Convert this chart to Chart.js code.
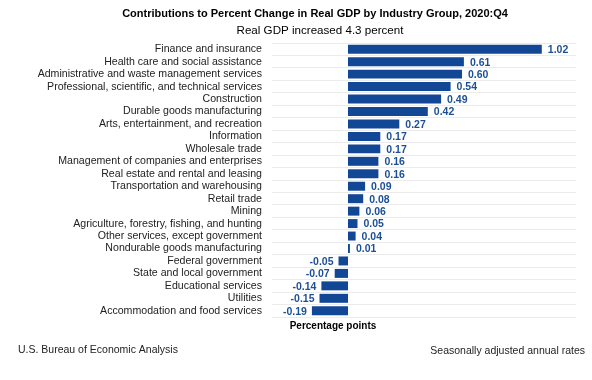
<!DOCTYPE html>
<html>
<head>
<meta charset="utf-8">
<script src="https://cdn.jsdelivr.net/npm/chart.js@4.4.1/dist/chart.umd.min.js"></script>
<style>
  html, body { margin: 0; padding: 0; background: #fff; }
  #wrap { width: 592px; height: 380px; position: relative; }
</style>
</head>
<body>
<div id="wrap"><canvas id="gdpChart"></canvas></div>
<script>
  const industries = [
    "Finance and insurance",
    "Health care and social assistance",
    "Administrative and waste management services",
    "Professional, scientific, and technical services",
    "Construction",
    "Durable goods manufacturing",
    "Arts, entertainment, and recreation",
    "Information",
    "Wholesale trade",
    "Management of companies and enterprises",
    "Real estate and rental and leasing",
    "Transportation and warehousing",
    "Retail trade",
    "Mining",
    "Agriculture, forestry, fishing, and hunting",
    "Other services, except government",
    "Nondurable goods manufacturing",
    "Federal government",
    "State and local government",
    "Educational services",
    "Utilities",
    "Accommodation and food services"
  ];
  const contributions = [1.02, 0.61, 0.60, 0.54, 0.49, 0.42, 0.27, 0.17, 0.17, 0.16, 0.16,
    0.09, 0.08, 0.06, 0.05, 0.04, 0.01, -0.05, -0.07, -0.14, -0.15, -0.19];

  const titleText = "Contributions to Percent Change in Real GDP by Industry Group, 2020:Q4";
  const subtitleText = "Real GDP increased 4.3 percent";
  const axisTitle = "Percentage points";
  const sourceText = "U.S. Bureau of Economic Analysis";
  const noteText = "Seasonally adjusted annual rates";

  const barBlue = "#124796";
  const labelBlue = "#1d4f96";
  const fontFam = "'Liberation Sans', Arial, sans-serif";

  // value labels next to each bar + the surrounding texts
  const textPlugin = {
    id: "texts",
    afterDatasetsDraw(chart) {
      const ctx = chart.ctx;
      const meta = chart.getDatasetMeta(0);
      ctx.save();
      ctx.font = "bold 10.5px " + fontFam;
      ctx.fillStyle = labelBlue;
      ctx.textBaseline = "middle";
      meta.data.forEach((bar, i) => {
        const v = contributions[i];
        const txt = v.toFixed(2);
        if (v >= 0) {
          ctx.textAlign = "left";
          ctx.fillText(txt, bar.x + 6, bar.y + 1);
        } else {
          ctx.textAlign = "right";
          ctx.fillText(txt, bar.x - 5, bar.y + 1);
        }
      });
      ctx.restore();
    },
    afterDraw(chart) {
      const ctx = chart.ctx;
      ctx.save();
      ctx.fillStyle = "#000";
      ctx.textBaseline = "middle";
      ctx.textAlign = "center";
      ctx.font = "bold 11px " + fontFam;
      ctx.fillText(titleText, 315, 14);
      ctx.font = "11.6px " + fontFam;
      ctx.fillText(subtitleText, 320, 31);
      ctx.font = "bold 10px " + fontFam;
      ctx.fillText(axisTitle, 333, 326);
      ctx.font = "10.5px " + fontFam;
      ctx.fillStyle = "#222";
      ctx.textAlign = "left";
      ctx.fillText(sourceText, 18, 350);
      ctx.textAlign = "right";
      ctx.fillText(noteText, 585, 351);
      ctx.restore();
    }
  };

  new Chart(document.getElementById("gdpChart"), {
    type: "bar",
    data: {
      labels: industries,
      datasets: [{
        data: contributions,
        backgroundColor: barBlue,
        borderWidth: 0,
        barPercentage: 0.72,
        categoryPercentage: 1
      }]
    },
    options: {
      indexAxis: "y",
      responsive: true,
      maintainAspectRatio: false,
      animation: false,
      layout: { padding: { top: 43, bottom: 63, left: 0, right: 16 } },
      plugins: {
        legend: { display: false },
        tooltip: { enabled: false }
      },
      scales: {
        x: {
          display: false,
          min: -0.4,
          max: 1.2
        },
        y: {
          afterFit(scale) { scale.width = 272; },
          border: { display: false },
          grid: { offset: true, color: "#ebebeb", lineWidth: 1, drawTicks: false },
          ticks: {
            color: "#222",
            padding: 10,
            autoSkip: false,
            font: { family: fontFam, size: 10.6 }
          }
        }
      }
    },
    plugins: [textPlugin]
  });
</script>
</body>
</html>
